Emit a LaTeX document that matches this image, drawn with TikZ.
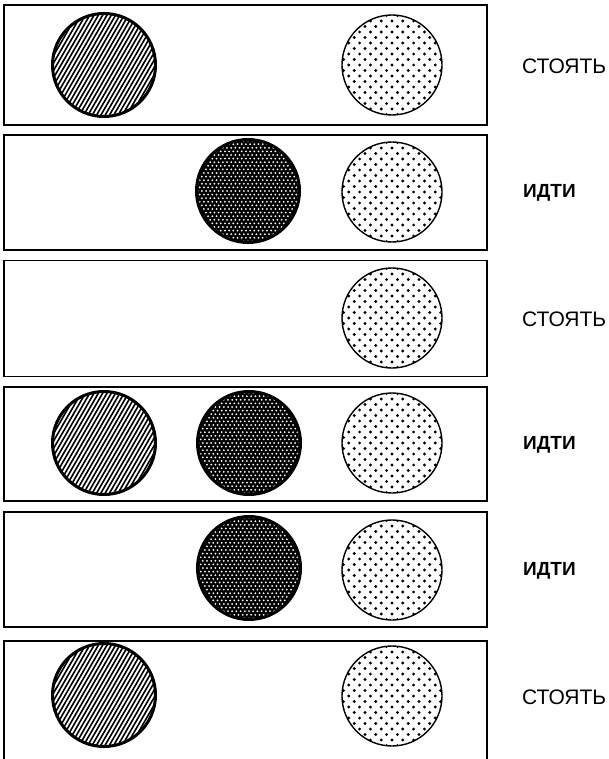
\documentclass[tikz,border=0pt]{standalone}
\usepackage{fontspec}
\setmainfont{Liberation Sans}
\tikzset{
  panel/.style={draw=black, line width=1.3pt, inner sep=0pt, minimum width=483pt},
  hatchline/.style={line width=1.6pt, black},
  lbl/.style={font=\fontsize{21}{24}\selectfont, anchor=west, inner sep=0pt},
  lblb/.style={font=\fontsize{19}{22}\selectfont\bfseries, anchor=west, inner sep=0pt},
}
\newcommand\hatchdisc[2]{%
  \begin{scope}[shift={(#1,#2)}]
    \begin{scope}
      \clip (0,0) circle[radius=52];
      \fill[white] (0,0) circle[radius=52];
      \foreach \k in {-22,...,22} \draw[hatchline] (\k*4.3-40,69.3) -- (\k*4.3+40,-69.3);
    \end{scope}
    \draw[line width=3pt] (0,0) circle[radius=51.5];
  \end{scope}}
\newcommand\darkdisc[2]{%
  \begin{scope}[shift={(#1,#2)}]
    \begin{scope}
      \clip (0,0) circle[radius=52];
      \fill[black] (0,0) circle[radius=52];
      \foreach \j in {-15,...,15} {
        \pgfmathsetmacro\off{mod(abs(\j),2)*2.1}
        \foreach \i in {-13,...,13} \fill[white] (\i*4.2+\off,\j*3.6) circle[radius=1.0];
      }
    \end{scope}
    \draw[line width=3pt] (0,0) circle[radius=51.5];
  \end{scope}}
\newcommand\dotdisc[2]{%
  \begin{scope}[shift={(#1,#2)}]
    \begin{scope}
      \clip (0,0) circle[radius=50];
      \fill[white] (0,0) circle[radius=50];
      \foreach \j in {-9,...,9} {
        \pgfmathsetmacro\off{mod(abs(\j),2)*5.4}
        \foreach \i in {-6,...,6} \fill[black] (\i*10.8+\off,\j*5.5) circle[radius=1.6];
      }
    \end{scope}
    \draw[line width=1.4pt] (0,0) circle[radius=50];
  \end{scope}}
\begin{document}
\begin{tikzpicture}[x=1pt,y=-1pt]
\useasboundingbox (0,0) rectangle (609,759);
\clip (0,0) rectangle (609,759);
% panels
\node[panel, minimum height=120pt] (p1) at (245.5,65) {};
\node[panel, minimum height=115pt] (p2) at (245.5,192.5) {};
\node[panel, minimum height=116pt] (p3) at (245.5,318.5) {};
\node[panel, minimum height=114pt] (p4) at (245.5,444) {};
\node[panel, minimum height=115pt] (p5) at (245.5,569.5) {};
\node[panel, minimum height=130pt] (p6) at (245.5,706) {};
% row 1
\hatchdisc{104}{65}
\dotdisc{392}{65}
\node[lbl] (t1) at (522,66) {СТОЯТЬ};
% row 2
\darkdisc{248}{191}
\dotdisc{392}{192}
\node[lblb] (t2) at (523,193) {ИДТИ};
% row 3
\dotdisc{392}{318}
\node[lbl] (t3) at (522,319) {СТОЯТЬ};
% row 4
\hatchdisc{104}{443}
\darkdisc{249}{443}
\dotdisc{392}{443}
\node[lblb] (t4) at (523,445) {ИДТИ};
% row 5
\darkdisc{249}{568}
\dotdisc{392}{570}
\node[lblb] (t5) at (523,571) {ИДТИ};
% row 6
\hatchdisc{104}{695}
\dotdisc{392}{696}
\node[lbl] (t6) at (522,697) {СТОЯТЬ};
\end{tikzpicture}
\end{document}
